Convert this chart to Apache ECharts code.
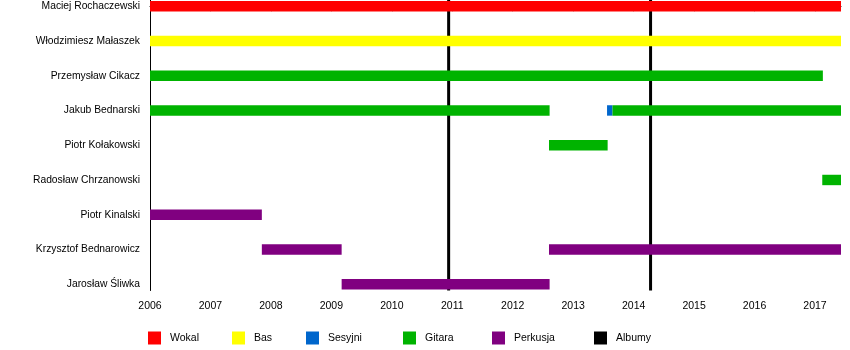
<!DOCTYPE html>
<html>
<head>
<meta charset="utf-8">
<script src="https://cdn.jsdelivr.net/npm/echarts@6/dist/echarts.min.js"></script>
<style>html,body{margin:0;padding:0;background:#fff}#c{width:850px;height:350px}</style>
</head>
<body>
<div id="c"></div>
<script>
// Members (rows, top to bottom)
const members = ["Maciej Rochaczewski", "Włodzimiesz Małaszek", "Przemysław Cikacz", "Jakub Bednarski", "Piotr Kołakowski", "Radosław Chrzanowski", "Piotr Kinalski", "Krzysztof Bednarowicz", "Jarosław Śliwka"];
// Roles (legend order)
const roles = ["Wokal", "Bas", "Sesyjni", "Gitara", "Perkusja"];
const roleColors = ["#ff0000", "#ffff00", "#0066cc", "#00b300", "#800080"];
// Segments
const segMember = [0, 1, 2, 3, 3, 3, 4, 5, 6, 7, 7, 8];
const segRole   = ["Wokal", "Bas", "Gitara", "Gitara", "Sesyjni", "Gitara", "Gitara", "Gitara", "Perkusja", "Perkusja", "Perkusja", "Perkusja"];
const segStart  = [2006, 2006, 2006, 2006, 2013.56, 2013.65, 2012.60, 2017.12, 2006, 2007.85, 2012.60, 2009.17];
const segEnd    = [2017.43, 2017.43, 2017.13, 2012.61, 2013.65, 2017.43, 2013.57, 2017.43, 2007.85, 2009.17, 2017.43, 2012.61];
// Albums
const albumDates = [2010.94, 2014.28];
// Axis
const years = [2006, 2007, 2008, 2009, 2010, 2011, 2012, 2013, 2014, 2015, 2016, 2017];
const xMin = 2006, xMax = 2017.43;

const font = "'Liberation Sans', Arial, sans-serif";

function barRender(params, api) {
  const row = api.value(2);
  const s = api.coord([api.value(0), row]);
  const e = api.coord([api.value(1), row]);
  const h = api.size([0, 1])[1] * 0.3;
  return {
    type: 'rect',
    shape: { x: s[0], y: s[1] - h / 2, width: e[0] - s[0], height: h },
    style: { fill: api.visual('color') }
  };
}
function albumRender(params, api) {
  const p = api.coord([api.value(0), 0]);
  const cs = params.coordSys;
  return {
    type: 'rect',
    shape: { x: p[0] - 1.5, y: cs.y, width: 3, height: cs.height },
    style: { fill: '#000' }
  };
}

const series = roles.map((r, ri) => {
  const data = [];
  segRole.forEach((sr, i) => { if (sr === r) data.push([segStart[i], segEnd[i], segMember[i]]); });
  return {
    type: 'custom', name: r, renderItem: barRender, z: 3,
    itemStyle: { color: roleColors[ri] },
    encode: { x: [0, 1], y: 2 }, data
  };
});
series.push({
  type: 'custom', name: 'Albumy', renderItem: albumRender, z: 2,
  itemStyle: { color: '#000' },
  encode: { x: 0 }, data: albumDates.map(d => [d])
});

const legendNames = roles.concat(['Albumy']);
const legendLeft = [148, 232, 306, 403, 492, 594];
const legends = legendNames.map((n, i) => ({
  data: [n], left: legendLeft[i] - 5, top: 326.5, icon: 'rect',
  itemWidth: 13, itemHeight: 13, selectedMode: false,
  textStyle: { fontFamily: font, fontSize: 10.5, color: '#000', padding: [0, 0, 0, 4] }
}));

const chart = echarts.init(document.getElementById('c'), null, { renderer: 'canvas' });
chart.setOption({
  animation: false,
  backgroundColor: '#fff',
  grid: { left: 150, right: 9, top: 0, bottom: 59.5, outerBoundsMode: 'none' },
  legend: legends,
  xAxis: {
    type: 'value', min: xMin, max: xMax, interval: 1,
    axisLine: { show: true, lineStyle: { color: '#000', width: 1 } },
    axisTick: { show: true, inside: false, length: 5, lineStyle: { color: '#000' }, customValues: years },
    axisLabel: { customValues: years, formatter: v => String(v), margin: 10, fontFamily: font, fontSize: 10.5, color: '#000' },
    splitLine: { show: false }
  },
  yAxis: {
    type: 'value', inverse: true, min: -0.178, max: 8.18,
    axisLine: { show: true, lineStyle: { color: '#000', width: 1 } },
    axisTick: { show: false },
    axisLabel: { customValues: members.map((m, i) => i), formatter: v => members[v], margin: 10, fontFamily: font, fontSize: 10.3, color: '#000' },
    splitLine: { show: false }
  },
  series
});
</script>
</body>
</html>
